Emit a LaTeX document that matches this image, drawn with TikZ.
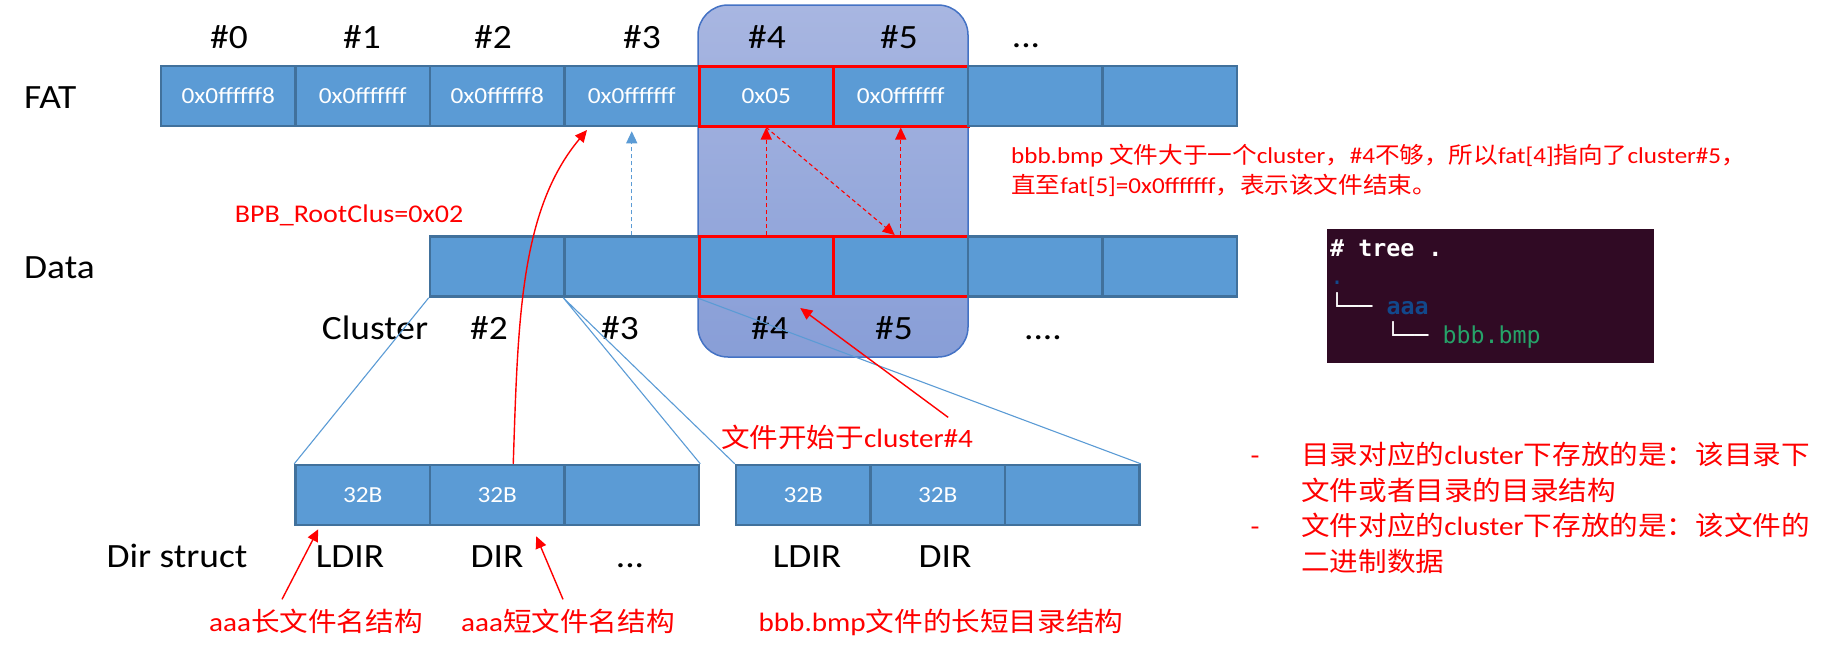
\documentclass[tikz,border=0pt]{standalone}
\usepackage{fontspec}
\setmainfont{Carlito}[FakeStretch=1.1]
\newfontfamily\cjk{Noto Sans CJK SC}[FakeStretch=1.08]
\newfontfamily\term{DejaVu Sans Mono}
\usetikzlibrary{arrows.meta}
\definecolor{cellblue}{RGB}{91,155,213}
\definecolor{cellline}{RGB}{65,113,156}
\definecolor{hltop}{RGB}{168,182,225}
\definecolor{hlbot}{RGB}{136,158,215}
\definecolor{hledge}{RGB}{68,114,196}
\definecolor{termbg}{RGB}{48,10,36}
\definecolor{termblue}{RGB}{18,72,139}
\definecolor{termgreen}{RGB}{38,162,105}

\begin{document}
\begin{tikzpicture}[x=1pt,y=-1pt,
	cell/.style={draw=cellline,fill=cellblue,line width=2.5pt,minimum width=134.5pt,minimum height=60pt,inner sep=0pt,text=white,font=\fontsize{23}{27}\selectfont},
	hot/.style={cell,draw=red,line width=3pt},
	lbl/.style={anchor=base,inner sep=0pt,font=\fontsize{34}{40}\selectfont},
	note/.style={anchor=base,inner sep=1pt,text=red,font=\fontsize{26.5}{32}\selectfont},
	notesm/.style={note,anchor=base west,font=\fontsize{22.8}{28}\selectfont},
	tip/.style={-{Triangle[length=12pt,width=11pt]}},
	redarr/.style={tip,draw=red,line width=1.4pt},
	reddash/.style={redarr,line width=1.1pt,dash pattern=on 4pt off 3pt},
	bluedash/.style={tip,draw=cellblue,line width=1.2pt,dash pattern=on 4pt off 3pt},
	link/.style={draw=cellblue,line width=1.1pt},
	term/.style={anchor=base west,inner sep=0pt,text=white,font=\term\fontsize{23.3}{28}\selectfont}]
\useasboundingbox (0,0) rectangle (1839,657);
\draw[draw=hledge,line width=1.5pt,top color=hltop,bottom color=hlbot,rounded corners=30pt] (698,5) rectangle (968,357);

\node[lbl,anchor=base west] (fatlbl) at (24,108) {FAT};
\node[lbl,anchor=base west] (datlbl) at (24,278) {Data};
\foreach \i/\x in {0/229,1/362,2/493,3/642,4/767,5/899}
		\node[lbl] (col\i) at (\x,48) {\#\i};
\node[lbl] (colmore) at (1026,47) {...};

\foreach \i/\v/\s in {0/0x0ffffff8/cell,1/0x0fffffff/cell,2/0x0ffffff8/cell,3/0x0fffffff/cell,4/0x05/hot,5/0x0fffffff/hot,6//cell,7//cell}
		\node[\s] (fat\i) at ({228.25+134.5*\i},96) {\v};
\foreach \i/\s in {2/cell,3/cell,4/hot,5/hot,6/cell,7/cell}
		\node[\s] (dat\i) at ({228.25+134.5*\i},266.5) {};
\foreach \k/\v in {1/32B,2/32B,3/} {
		\node[cell] (dira\k) at ({228.25+134.5*\k},495) {\v};
		\node[cell] (dirb\k) at ({668.75+134.5*\k},495) {\v};}

\node[lbl] (clulbl) at (375,339) {Cluster};
\foreach \i/\x in {2/489,3/620,4/770,5/894}
		\node[lbl] (clu\i) at (\x,339) {\#\i};
\node[lbl] (clumore) at (1043,339) {....};

\node[lbl] (dirlbl) at (177,567) {Dir struct};
\foreach \n/\x/\t in {a1/350/LDIR,a2/497/DIR,b1/807/LDIR,b2/945/DIR}
		\node[lbl] (name\n) at (\x,567) {\t};
\node[lbl] (namea3) at (630,567) {...};

\draw[link] (dat2.south west) -- (dira1.north west) (dat3.south west) -- (dira3.north east)
		(dat3.south west) -- (dirb1.north west) (dat4.south west) -- (dirb3.north east);

\draw[bluedash,shorten >=4pt] (dat3.north) -- (fat3.south);
\draw[reddash] (dat4.north) -- (fat4.south);
\draw[reddash] (dat5.north) -- (fat5.south);
\draw[reddash] (fat4.south) -- ([xshift=-6pt]dat5.north);

\node[note,font=\fontsize{25.5}{30}\selectfont] (rootclus) at (349,222) {BPB\_RootClus=0x02};
\coordinate (hit3) at (587,130);
\draw[redarr] ([xshift=16pt]dira2.north) .. controls (518,320) and (520,210) .. (hit3);

\node[note] (start4) at (847,447) {{\cjk 文件开始于}cluster\#4};
\draw[redarr] ([xshift=-26pt,yshift=6pt]start4.north east) -- ([xshift=34pt,yshift=-10pt]dat4.south);

\node[note] (lfnA) at (316,631) {aaa{\cjk 长文件名结构}};
\node[note] (sfnA) at (568,631) {aaa{\cjk 短文件名结构}};
\node[note] (fnB) at (941,631) {bbb.bmp{\cjk 文件的长短目录结构}};
\draw[redarr] ([xshift=-34pt,yshift=8pt]lfnA.north) -- ([xshift=24pt,yshift=-3pt]dira1.south west);
\draw[redarr] ([xshift=-5pt,yshift=8pt]sfnA.north) -- ([xshift=39pt,yshift=-10pt]dira2.south);

\node[notesm] (why1) at (1010,163) {bbb.bmp {\cjk 文件大于一个}cluster{\cjk ，}\#4{\cjk 不够，所以}fat[4]{\cjk 指向了}cluster\#5{\cjk ，}};
\node[notesm] (why2) at (1010,193) {{\cjk 直至}fat[5]=0x0fffffff{\cjk ，表示该文件结束。}};

\foreach \j/\y in {1/464,3/535}
		\node[note] (dash\j) at (1255,\y) {-};
\node[note,anchor=base west] (rule1) at (1300,464) {{\cjk 目录对应的}cluster{\cjk 下存放的是：该目录下}};
\node[note,anchor=base west] (rule2) at (1300,500) {{\cjk 文件或者目录的目录结构}};
\node[note,anchor=base west] (rule3) at (1300,535) {{\cjk 文件对应的}cluster{\cjk 下存放的是：该文件的}};
\node[note,anchor=base west] (rule4) at (1300,571) {{\cjk 二进制数据}};

\fill[termbg] (1327,229) rectangle (1654,363);
\node[term,font=\term\bfseries\fontsize{23.3}{28}\selectfont] (tcmd) at (1330,256) {\# tree .};
\node[term,text=termblue] (troot) at (1330,284) {.};
\node[term] (taaa) at (1330,314) {\textbf{└──} \textcolor{termblue}{\textbf{aaa}}};
\node[term] (tbbb) at (1386,343) {\textbf{└──} \textcolor{termgreen}{bbb.bmp}};
\end{tikzpicture}
\end{document}
